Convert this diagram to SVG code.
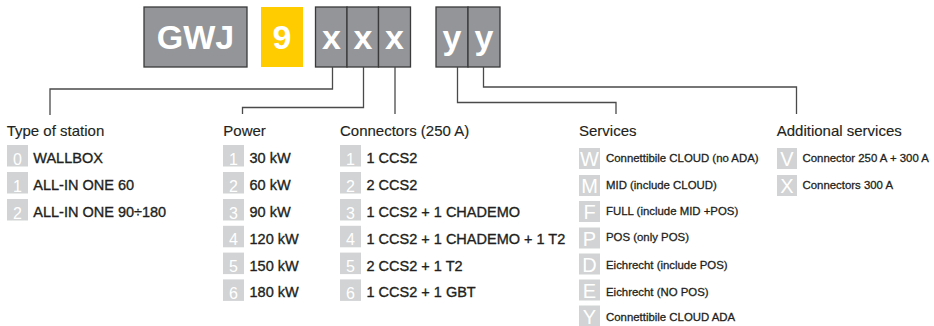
<svg xmlns="http://www.w3.org/2000/svg" width="934" height="326" viewBox="0 0 934 326">
<style>
.bg{fill:#ffffff}
.code{fill:#939598;stroke:#3a3a3a;stroke-width:1.3}
.yel{fill:#ffcc00}
.ct{font-family:"Liberation Sans",Arial,sans-serif;font-weight:bold;font-size:34px;fill:#ffffff;text-anchor:middle}
.hd{font-family:"Liberation Sans",Arial,sans-serif;font-size:15px;fill:#231f20;stroke:#231f20;stroke-width:0.15}
.it{font-family:"Liberation Sans",Arial,sans-serif;font-size:14.5px;fill:#231f20;stroke:#231f20;stroke-width:0.35}
.si{font-family:"Liberation Sans",Arial,sans-serif;font-size:11.4px;fill:#231f20;stroke:#231f20;stroke-width:0.3}
.sq{fill:#d1d3d4}
.dg{font-family:"Liberation Sans",Arial,sans-serif;font-size:16px;fill:#ffffff;text-anchor:middle}
.lt{font-family:"Liberation Sans",Arial,sans-serif;font-size:20px;fill:#ffffff;text-anchor:middle}
.ln{fill:none;stroke:#4a4a4a;stroke-width:1.3}
</style>
<rect class="bg" x="0" y="0" width="934" height="326"/>

<g id="code">
  <g id="code-gwj"><rect class="code" x="144" y="7" width="103" height="60"/><text class="ct" x="195.5" y="49">GWJ</text></g>
  <g id="code-9"><rect class="yel" x="261" y="7" width="42" height="60"/><text class="ct" x="282" y="49">9</text></g>
  <g id="code-x1"><rect class="code" x="315.5" y="7" width="31.5" height="60"/><text class="ct" x="331.5" y="49">x</text></g>
  <g id="code-x2"><rect class="code" x="347" y="7" width="31.5" height="60"/><text class="ct" x="363" y="49">x</text></g>
  <g id="code-x3"><rect class="code" x="378.5" y="7" width="32" height="60"/><text class="ct" x="394.5" y="49">x</text></g>
  <g id="code-y1"><rect class="code" x="436" y="7" width="32" height="60"/><text class="ct" x="452" y="49">y</text></g>
  <g id="code-y2"><rect class="code" x="468" y="7" width="32" height="60"/><text class="ct" x="484" y="49">y</text></g>
</g>

<g id="connectors">
  <path class="ln" d="M332.5,67 V89 H50 V115"/>
  <path class="ln" d="M363.5,67 V107.5 H242.5 V114"/>
  <path class="ln" d="M395,67 V114"/>
  <path class="ln" d="M457.5,67 V102.5 H616 V114"/>
  <path class="ln" d="M483.5,67 V87 H796.5 V114"/>
</g>

<g id="type-of-station">
  <text class="hd" x="6.7" y="135.5">Type of station</text>
  <rect class="sq" x="7" y="145" width="21" height="21.5"/><text class="dg" x="17.5" y="164.5">0</text><text class="it" x="33.3" y="163.3">WALLBOX</text>
  <rect class="sq" x="7" y="172" width="21" height="21.5"/><text class="dg" x="17.5" y="191.5">1</text><text class="it" x="33.3" y="190">ALL-IN ONE 60</text>
  <rect class="sq" x="7" y="199" width="21" height="21.5"/><text class="dg" x="17.5" y="218.5">2</text><text class="it" x="33.3" y="216.7">ALL-IN ONE 90÷180</text>
</g>

<g id="power">
  <text class="hd" x="223.3" y="135.5">Power</text>
  <rect class="sq" x="223" y="145" width="21" height="21.5"/><text class="dg" x="233.5" y="164.5">1</text><text class="it" x="249.5" y="163.3">30 kW</text>
  <rect class="sq" x="223" y="172" width="21" height="21.5"/><text class="dg" x="233.5" y="191.5">2</text><text class="it" x="249.5" y="190">60 kW</text>
  <rect class="sq" x="223" y="199" width="21" height="21.5"/><text class="dg" x="233.5" y="218.5">3</text><text class="it" x="249.5" y="216.7">90 kW</text>
  <rect class="sq" x="223" y="225.8" width="21" height="21.5"/><text class="dg" x="233.5" y="245.3">4</text><text class="it" x="249.5" y="244">120 kW</text>
  <rect class="sq" x="223" y="252.6" width="21" height="21.5"/><text class="dg" x="233.5" y="272.1">5</text><text class="it" x="249.5" y="270.7">150 kW</text>
  <rect class="sq" x="223" y="279.4" width="21" height="21.5"/><text class="dg" x="233.5" y="298.9">6</text><text class="it" x="249.5" y="297.3">180 kW</text>
</g>

<g id="connectors-250a">
  <text class="hd" x="340" y="135.5">Connectors (250 A)</text>
  <rect class="sq" x="340" y="145" width="21" height="21.5"/><text class="dg" x="350.5" y="164.5">1</text><text class="it" x="366.5" y="163.3">1 CCS2</text>
  <rect class="sq" x="340" y="172" width="21" height="21.5"/><text class="dg" x="350.5" y="191.5">2</text><text class="it" x="366.5" y="190">2 CCS2</text>
  <rect class="sq" x="340" y="199" width="21" height="21.5"/><text class="dg" x="350.5" y="218.5">3</text><text class="it" x="366.5" y="216.7">1 CCS2 + 1 CHADEMO</text>
  <rect class="sq" x="340" y="225.8" width="21" height="21.5"/><text class="dg" x="350.5" y="245.3">4</text><text class="it" x="366.5" y="244">1 CCS2 + 1 CHADEMO + 1 T2</text>
  <rect class="sq" x="340" y="252.6" width="21" height="21.5"/><text class="dg" x="350.5" y="272.1">5</text><text class="it" x="366.5" y="270.7">2 CCS2 + 1 T2</text>
  <rect class="sq" x="340" y="279.4" width="21" height="21.5"/><text class="dg" x="350.5" y="298.9">6</text><text class="it" x="366.5" y="297.3">1 CCS2 + 1 GBT</text>
</g>

<g id="services">
  <text class="hd" x="579" y="135.5">Services</text>
  <rect class="sq" x="579" y="148" width="21" height="21"/><text class="lt" x="589.5" y="166">W</text><text class="si" x="606" y="162">Connettibile CLOUD (no ADA)</text>
  <rect class="sq" x="579" y="175" width="21" height="21"/><text class="lt" x="589.5" y="193">M</text><text class="si" x="606" y="188.5">MID (include CLOUD)</text>
  <rect class="sq" x="579" y="201" width="21" height="21"/><text class="lt" x="589.5" y="219">F</text><text class="si" x="606" y="215">FULL (include MID +POS)</text>
  <rect class="sq" x="579" y="227.5" width="21" height="21"/><text class="lt" x="589.5" y="245.5">P</text><text class="si" x="606" y="241">POS (only POS)</text>
  <rect class="sq" x="579" y="253.5" width="21" height="21"/><text class="lt" x="589.5" y="271.5">D</text><text class="si" x="606" y="268.5">Eichrecht (include POS)</text>
  <rect class="sq" x="579" y="279.5" width="21" height="21"/><text class="lt" x="589.5" y="297.5">E</text><text class="si" x="606" y="295.5">Eichrecht (NO POS)</text>
  <rect class="sq" x="579" y="305.5" width="21" height="21"/><text class="lt" x="589.5" y="323.5">Y</text><text class="si" x="606" y="320.5">Connettibile CLOUD ADA</text>
</g>

<g id="additional-services">
  <text class="hd" x="776.7" y="135.5">Additional services</text>
  <rect class="sq" x="777" y="148" width="20" height="21"/><text class="lt" x="787" y="166">V</text><text class="si" x="802.5" y="161.5">Connector 250 A + 300 A</text>
  <rect class="sq" x="777" y="175" width="20" height="21"/><text class="lt" x="787" y="193">X</text><text class="si" x="802.5" y="189">Connectors 300 A</text>
</g>
</svg>
